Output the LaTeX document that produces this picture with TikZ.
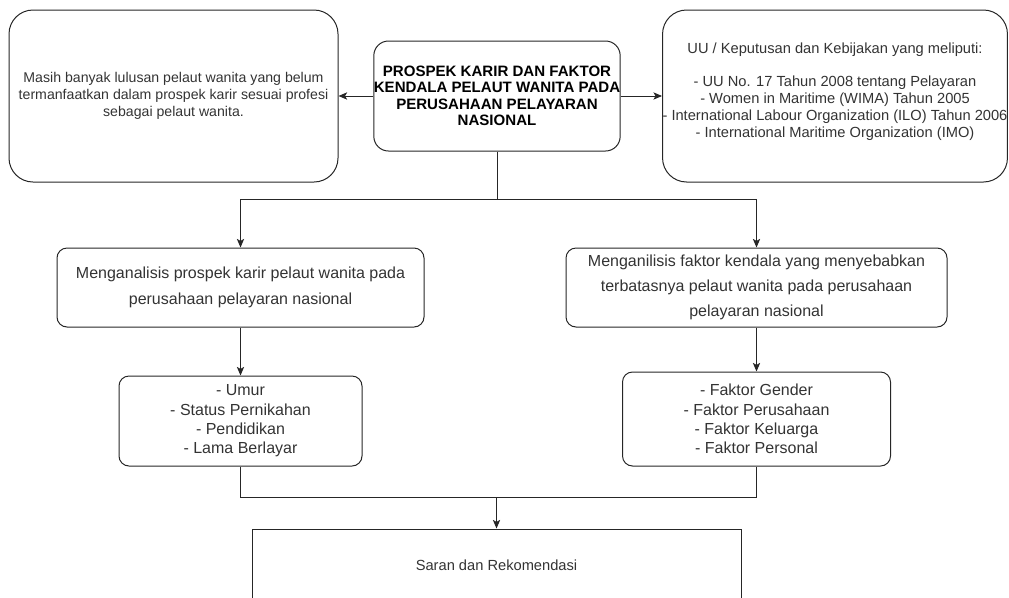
\documentclass[tikz,border=0pt]{standalone}
\usepackage{fontspec}
\setmainfont{Liberation Sans}
\usetikzlibrary{arrows.meta}

\begin{document}
\begin{tikzpicture}[x=0.75pt, y=-0.75pt, line width=0.75pt,
  kotak/.style={draw=black!85, text=black!80, align=center, inner sep=0pt},
  panah/.style={-{Stealth[length=6.5pt, width=5.5pt, inset=1.6pt]}, draw=black!85}]
  \useasboundingbox (0,0) rectangle (1009,597);

  % baris atas
  \node[kotak, rounded corners=18pt, minimum width=246.75pt, minimum height=129pt,
    font=\fontsize{10.6}{12.75}\selectfont] (masalah) at (173.5,96)
    {Masih banyak lulusan pelaut wanita yang belum\\
     termanfaatkan dalam prospek karir sesuai profesi\\
     sebagai pelaut wanita.};
  \node[kotak, rounded corners=11pt, minimum width=183pt, minimum height=82.5pt,
    font=\fontsize{11.3}{12.4}\selectfont\bfseries, text=black] (judul) at (497,96)
    {PROSPEK KARIR DAN FAKTOR\\ KENDALA PELAUT WANITA PADA\\
     PERUSAHAAN PELAYARAN\\ NASIONAL};
  \node[kotak, rounded corners=18pt, minimum width=258pt, minimum height=129pt,
    font=\fontsize{11}{12.75}\selectfont] (uu) at (835,96)
    {UU / Keputusan dan Kebijakan yang meliputi:\\[12pt]
     - UU No. 17 Tahun 2008 tentang Pelayaran\\
     - Women in Maritime (WIMA) Tahun 2005\\
     - International Labour Organization (ILO) Tahun 2006\\
     - International Maritime Organization (IMO)\\[-8pt] \strut};

  % analisis
  \node[kotak, rounded corners=7.5pt, minimum width=275.25pt, minimum height=59.25pt,
    font=\fontsize{12}{19.5}\selectfont] (analisis1) at (240.5,287.5)
    {Menganalisis prospek karir pelaut wanita pada\\ perusahaan pelayaran nasional};
  \node[kotak, rounded corners=7.5pt, minimum width=285.75pt, minimum height=59.25pt,
    font=\fontsize{12}{18.5}\selectfont] (analisis2) at (756.5,287.5)
    {Menganilisis faktor kendala yang menyebabkan\\
     terbatasnya pelaut wanita pada perusahaan\\ pelayaran nasional};

  % faktor
  \node[kotak, rounded corners=7.5pt, minimum width=182.25pt, minimum height=67.5pt,
    font=\fontsize{12}{14.5}\selectfont] (faktor1) at (240.5,421)
    {- Umur\\ - Status Pernikahan\\ - Pendidikan\\ - Lama Berlayar};
  \node[kotak, rounded corners=7.5pt, minimum width=201pt, minimum height=70.5pt,
    font=\fontsize{12}{14.5}\selectfont] (faktor2) at (756.5,419)
    {- Faktor Gender\\ - Faktor Perusahaan\\ - Faktor Keluarga\\ - Faktor Personal};

  % saran
  \node[kotak, minimum width=366.75pt, minimum height=54pt,
    font=\fontsize{11}{13}\selectfont] (saran) at (496.5,565) {Saran dan Rekomendasi};

  % penghubung
  \coordinate (pisah) at (497,199);
  \coordinate (gabung) at (496.5,497);
  \draw[panah] (judul.west) -- (masalah.east);
  \draw[panah] (judul.east) -- (uu.west);
  \draw[draw=black!85] (judul.south) -- (pisah);
  \draw[panah] (pisah) -| (analisis1.north);
  \draw[panah] (pisah) -| (analisis2.north);
  \draw[panah] (analisis1.south) -- (faktor1.north);
  \draw[panah] (analisis2.south) -- (faktor2.north);
  \draw[draw=black!85] (faktor1.south) |- (gabung) -| (faktor2.south);
  \draw[panah] (gabung) -- (saran.north);
\end{tikzpicture}
\end{document}
